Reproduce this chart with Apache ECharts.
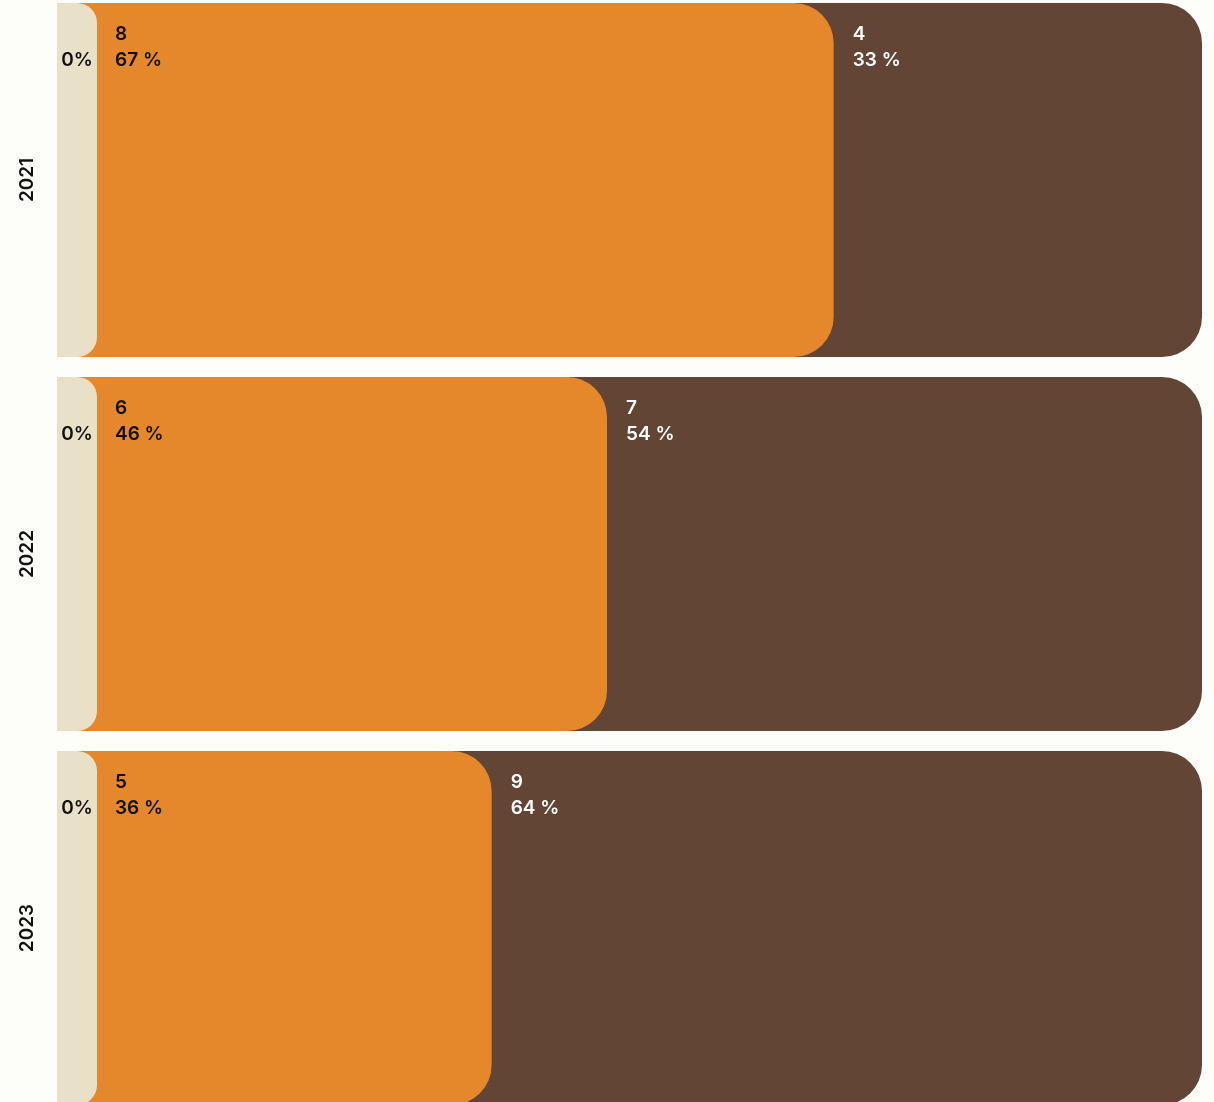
<!DOCTYPE html>
<html>
<head>
<meta charset="utf-8">
<script src="https://cdn.jsdelivr.net/npm/echarts@6/dist/echarts.min.js"></script>
<style>
  html, body { margin: 0; padding: 0; background: #fdfdf9; overflow: hidden; }
  /* the chart area is taller than the window so the last band runs off the bottom */
  #chart { position: absolute; left: 0; top: -7px; width: 1214px; height: 1122px; }
</style>
</head>
<body>
<div id="chart"></div>
<script>
// Years shown on the category axis (top to bottom)
const years = ['2021', '2022', '2023'];
// Answer counts per year
const countsNone = [0, 0, 0];
const countsOrange = [8, 6, 5];
const countsBrown = [4, 7, 9];

// Fixed slot (in share units) reserved for the empty first group
const SLOT = 0.0362;
const R = 40;

const COLORS = { none: '#e8e1c7', orange: '#e5872b', brown: '#634535' };
const FONT = 'Inter, "Noto Sans", sans-serif';

const rows = years.map((y, i) => [i, countsNone[i], countsOrange[i], countsBrown[i]]);

function pct(v, total) { return Math.round(v / total * 100); }

function renderItem(params, api) {
  const i = api.value(0);
  const none = api.value(1), a = api.value(2), b = api.value(3);
  const total = none + a + b;
  const e1 = SLOT + none / total;
  const e2 = e1 + a / total;
  const e3 = e2 + b / total;
  const px = v => api.coord([v, i])[0];
  const yc = api.coord([0, i])[1];
  const h = api.size([0, 1])[1] - 20;
  const top = yc - h / 2;
  const x0 = px(0), x1 = px(e1), x2 = px(e2), x3 = px(e3);

  const rect = (xa, xb, color, r) => ({
    type: 'rect',
    shape: { x: xa, y: top, width: xb - xa, height: h, r: [0, r, r, 0] },
    style: { fill: color }
  });
  const text = (x, y, str, color, extra) => ({
    type: 'text',
    style: Object.assign({
      text: str, x: x, y: y, fill: color,
      fontSize: 19, fontWeight: 600, fontFamily: FONT,
      lineHeight: 26, align: 'left', verticalAlign: 'top'
    }, extra || {})
  });

  return {
    type: 'group',
    children: [
      rect(x0, x3, COLORS.brown, R),
      rect(x0, x2, COLORS.orange, R),
      rect(x0, x1, COLORS.none, 20),
      text((x0 + x1) / 2, top + 57, pct(none, total) + '%', '#111',
           { align: 'center', verticalAlign: 'middle' }),
      text(x1 + 18, top + 18, a + '\n' + pct(a, total) + ' %', '#111'),
      text(x2 + 19, top + 18, b + '\n' + pct(b, total) + ' %', '#ffffff')
    ]
  };
}

const chart = echarts.init(document.getElementById('chart'), null, { renderer: 'canvas' });
chart.setOption({
  backgroundColor: '#fdfdf9',
  animation: false,
  grid: { left: 57, right: 12, top: 0, bottom: 0 },
  xAxis: {
    type: 'value', min: 0, max: 1 + SLOT,
    show: false
  },
  yAxis: {
    type: 'category',
    data: years,
    inverse: true,
    axisLine: { show: false },
    axisTick: { show: false },
    axisLabel: {
      rotate: 90, margin: 20,
      color: '#111', fontSize: 19, fontWeight: 600, fontFamily: FONT
    }
  },
  series: [{
    type: 'custom',
    renderItem: renderItem,
    encode: { x: [1, 2, 3], y: 0 },
    data: rows
  }]
});
</script>
</body>
</html>
